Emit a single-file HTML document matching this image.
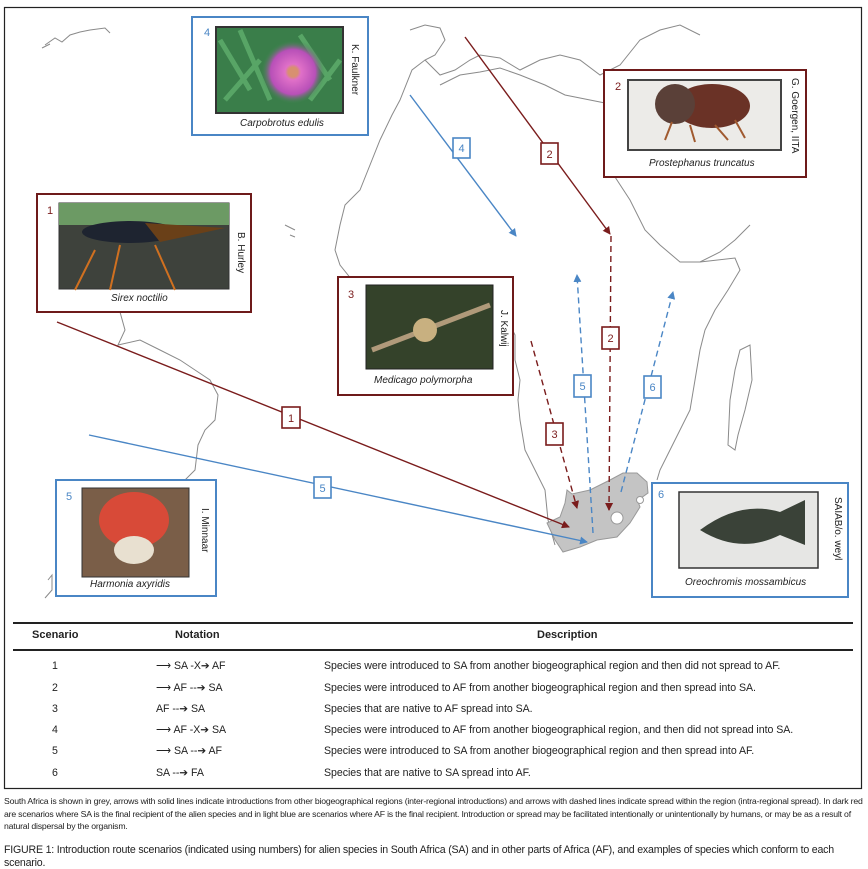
<!DOCTYPE html>
<html><head><meta charset="utf-8"><style>
html,body{margin:0;padding:0;background:#fff;}
body{width:868px;height:866px;position:relative;overflow:hidden;font-family:"Liberation Sans",sans-serif;color:#222;}
.t{position:absolute;white-space:nowrap;}
.row{position:absolute;font-size:10.6px;letter-spacing:-0.05px;white-space:nowrap;}
</style></head><body>
<svg width="868" height="866" style="position:absolute;left:0;top:0">
<defs>
<marker id="ar" markerWidth="8" markerHeight="8" refX="7" refY="4" orient="auto" markerUnits="userSpaceOnUse"><path d="M0,0 L8,4 L0,8 z" fill="#7a1c1c"/></marker>
<marker id="ab" markerWidth="8" markerHeight="8" refX="7" refY="4" orient="auto" markerUnits="userSpaceOnUse"><path d="M0,0 L8,4 L0,8 z" fill="#4a86c5"/></marker>
<radialGradient id="fl" cx="0.5" cy="0.5" r="0.5"><stop offset="0.15" stop-color="#d89070"/><stop offset="0.25" stop-color="#e070c8"/><stop offset="0.7" stop-color="#b850b8"/><stop offset="1" stop-color="#3a8a4a" stop-opacity="0"/></radialGradient>
</defs>
<rect x="4.5" y="7.5" width="857" height="781" fill="none" stroke="#222" stroke-width="1.2"/>
<g fill="none" stroke="#8a8a8a" stroke-width="1">
<path d="M45,45 L55,38 L62,42 L70,35 L80,32 L90,30 L105,28 L110,33 M42,48 L50,44"/>
<path d="M410,30 L425,25 L440,28 L445,40 L435,55 L425,60 L412,70 L400,100 L392,115 L380,140 L372,160 L360,190 L345,205 L340,225 L335,250 L340,265 L352,280 L365,300 L380,305 L400,308 L420,310 L450,312 L480,312 L505,315 L515,335 L515,360 L520,380 L518,400 L520,420 L525,450 L535,470 L545,490 L548,520 L555,545"/>
<path d="M440,85 L460,75 L480,72 L500,68 L520,75 L545,85 L565,95 L590,100 L605,103"/>
<path d="M425,60 L440,75 L455,70 L470,60 L480,55 L500,58 L520,70 L540,60 L560,55 L580,60 L600,75 L620,65 L640,40 L660,30 L680,25 L700,35"/>
<path d="M615,177 L630,200 L645,230 L660,245 L680,262 L700,262 L720,252 L735,240 L750,225"/>
<path d="M700,262 L735,258 L740,270 L728,290 L715,310 L705,330 L700,350 L695,380 L690,410 L680,430 L670,450 L660,470 L657,480"/>
<path d="M740,350 L750,345 L752,380 L745,410 L738,435 L735,450 L728,445 L730,400 L735,370 Z"/>
<path d="M120,312 L125,330 L118,345 L140,340 L160,350 L180,360 L195,370 L210,380 L218,395 L215,420 L205,430 L198,445 L195,470 L185,480 L175,480"/>
<path d="M48,580 L52,575 L52,590 L45,598"/>
<path d="M330,130 L340,128 L345,135 M285,225 L295,230 M290,235 L295,237"/>
</g>
<path d="M567,490 L572,494 L590,490 L610,480 L623,473 L637,473 L647,482 L648,493 L641,498 L637,499 L640,507 L630,523 L617,537 L597,540 L580,547 L563,552 L555,540 L547,523 L560,517 L565,503 Z" fill="#c4c4c4" stroke="#999" stroke-width="1"/>
<circle cx="617" cy="518" r="6" fill="#fff" stroke="#999"/>
<circle cx="640" cy="500" r="3.5" fill="#fff" stroke="#999"/>
<g stroke-width="1.4" fill="none">
<line x1="57" y1="322" x2="569" y2="527" stroke="#7a1c1c" marker-end="url(#ar)"/>
<line x1="465" y1="37" x2="610" y2="234" stroke="#7a1c1c" marker-end="url(#ar)"/>
<line x1="611" y1="236" x2="609" y2="510" stroke="#7a1c1c" stroke-dasharray="6,4" marker-end="url(#ar)"/>
<line x1="531" y1="341" x2="577" y2="508" stroke="#7a1c1c" stroke-dasharray="6,4" marker-end="url(#ar)"/>
<line x1="410" y1="95" x2="516" y2="236" stroke="#4a86c5" marker-end="url(#ab)"/>
<line x1="89" y1="435" x2="587" y2="542" stroke="#4a86c5" marker-end="url(#ab)"/>
<line x1="593" y1="533" x2="577" y2="275" stroke="#4a86c5" stroke-dasharray="6,4" marker-end="url(#ab)"/>
<line x1="621" y1="492" x2="673" y2="292" stroke="#4a86c5" stroke-dasharray="6,4" marker-end="url(#ab)"/>
</g>
<g font-size="11" text-anchor="middle" font-family="Liberation Sans">
<rect x="282" y="407" width="18" height="21" fill="#fff" stroke="#7a1c1c" stroke-width="1.6"/><text x="291" y="422" fill="#7a1c1c">1</text>
<rect x="541" y="143" width="17" height="21" fill="#fff" stroke="#7a1c1c" stroke-width="1.6"/><text x="549.5" y="158" fill="#7a1c1c">2</text>
<rect x="602" y="327" width="17" height="22" fill="#fff" stroke="#7a1c1c" stroke-width="1.6"/><text x="610.5" y="342" fill="#7a1c1c">2</text>
<rect x="546" y="423" width="17" height="22" fill="#fff" stroke="#7a1c1c" stroke-width="1.6"/><text x="554.5" y="438" fill="#7a1c1c">3</text>
<rect x="453" y="138" width="17" height="20" fill="#fff" stroke="#4a86c5" stroke-width="1.6"/><text x="461.5" y="152" fill="#4a86c5">4</text>
<rect x="314" y="477" width="17" height="21" fill="#fff" stroke="#4a86c5" stroke-width="1.6"/><text x="322.5" y="492" fill="#4a86c5">5</text>
<rect x="574" y="375" width="17" height="22" fill="#fff" stroke="#4a86c5" stroke-width="1.6"/><text x="582.5" y="390" fill="#4a86c5">5</text>
<rect x="644" y="376" width="17" height="22" fill="#fff" stroke="#4a86c5" stroke-width="1.6"/><text x="652.5" y="391" fill="#4a86c5">6</text>
</g>
<g fill="#fff" stroke-width="2">
<rect x="192" y="17" width="176" height="118" stroke="#4a86c5"/>
<rect x="604" y="70" width="202" height="107" stroke="#6e1a1a"/>
<rect x="37" y="194" width="214" height="118" stroke="#6e1a1a"/>
<rect x="338" y="277" width="175" height="118" stroke="#6e1a1a"/>
<rect x="56" y="480" width="160" height="116" stroke="#4a86c5"/>
<rect x="652" y="483" width="196" height="114" stroke="#4a86c5"/>
</g>
<rect x="216" y="27" width="127" height="86" fill="#3a7e4a" stroke="#333" stroke-width="2"/>
<path d="M220,40 L250,90 M240,30 L270,100 M300,35 L330,80 M225,100 L260,60 M310,100 L340,60" stroke="#6cc07a" stroke-width="5" opacity="0.6"/>
<circle cx="293" cy="72" r="32" fill="url(#fl)"/>
<rect x="628" y="80" width="153" height="70" fill="#ecebe8" stroke="#444" stroke-width="2"/>
<ellipse cx="712" cy="106" rx="38" ry="22" fill="#6a3226"/><ellipse cx="675" cy="104" rx="20" ry="20" fill="#5a4038"/>
<path d="M672,122 L665,140 M690,125 L695,142 M715,125 L728,140 M735,120 L745,138" stroke="#a05a30" stroke-width="2"/>
<rect x="59" y="203" width="170" height="86" fill="#3e423c" stroke="#333" stroke-width="1"/>
<rect x="59" y="203" width="170" height="22" fill="#6c9a64"/>
<ellipse cx="130" cy="232" rx="48" ry="11" fill="#1e2430"/><path d="M145,223 L225,228 L160,242 Z" fill="#6a4018"/>
<path d="M95,250 L75,290 M120,245 L110,290 M155,245 L175,290" stroke="#d07020" stroke-width="2"/>
<rect x="366" y="285" width="127" height="84" fill="#34422a" stroke="#222" stroke-width="1"/>
<path d="M372,350 L490,305" stroke="#b09a7a" stroke-width="5"/><circle cx="425" cy="330" r="12" fill="#c8b080"/>
<rect x="82" y="488" width="107" height="89" fill="#7a5e48" stroke="#333" stroke-width="1"/>
<ellipse cx="134" cy="520" rx="35" ry="28" fill="#d84a38"/><ellipse cx="134" cy="550" rx="20" ry="14" fill="#e8e0d0"/>
<rect x="679" y="492" width="139" height="76" fill="#e6e6e4" stroke="#333" stroke-width="1.5"/>
<path d="M700,530 Q740,500 780,512 L805,500 L805,545 L780,535 Q740,555 700,530 Z" fill="#3a4238"/>
</svg>
<div class="t" style="left:204px;top:27px;font-size:11px;color:#4a86c5">4</div>
<div class="t" style="left:615px;top:81px;font-size:11px;color:#7a1c1c">2</div>
<div class="t" style="left:47px;top:205px;font-size:11px;color:#7a1c1c">1</div>
<div class="t" style="left:348px;top:289px;font-size:11px;color:#7a1c1c">3</div>
<div class="t" style="left:66px;top:491px;font-size:11px;color:#4a86c5">5</div>
<div class="t" style="left:658px;top:489px;font-size:11px;color:#4a86c5">6</div>
<div class="t" style="left:240px;top:118px;font-size:10px;font-style:italic">Carpobrotus edulis</div>
<div class="t" style="left:649px;top:158px;font-size:10px;font-style:italic">Prostephanus truncatus</div>
<div class="t" style="left:111px;top:293px;font-size:10px;font-style:italic">Sirex noctilio</div>
<div class="t" style="left:374px;top:375px;font-size:10px;font-style:italic">Medicago polymorpha</div>
<div class="t" style="left:90px;top:579px;font-size:10px;font-style:italic">Harmonia axyridis</div>
<div class="t" style="left:685px;top:577px;font-size:10px;font-style:italic">Oreochromis mossambicus</div>
<div class="t" style="font-size:10px;transform:rotate(90deg);transform-origin:0 0;left:360px;top:44px">K. Faulkner</div>
<div class="t" style="font-size:10px;transform:rotate(90deg);transform-origin:0 0;left:800px;top:78px">G. Goergen, IITA</div>
<div class="t" style="font-size:10px;transform:rotate(90deg);transform-origin:0 0;left:246px;top:232px">B. Hurley</div>
<div class="t" style="font-size:10px;transform:rotate(90deg);transform-origin:0 0;left:509px;top:310px">J. Kalwij</div>
<div class="t" style="font-size:10px;transform:rotate(90deg);transform-origin:0 0;left:210px;top:508px">I. Minnaar</div>
<div class="t" style="font-size:10px;transform:rotate(90deg);transform-origin:0 0;left:843px;top:497px">SAIAB/o. weyl</div>
<div style="position:absolute;left:13px;top:622px;width:840px;border-top:2px solid #222"></div>
<div style="position:absolute;left:13px;top:649px;width:840px;border-top:2px solid #222"></div>
<div class="t" style="left:32px;top:629px;font-size:11px;font-weight:bold">Scenario</div>
<div class="t" style="left:175px;top:629px;font-size:11px;font-weight:bold">Notation</div>
<div class="t" style="left:537px;top:629px;font-size:11px;font-weight:bold">Description</div>
<div class="row" style="left:52px;top:660px">1</div><div class="row" style="left:156px;top:660px">⟶ SA -X➔ AF</div><div class="row" style="left:324px;top:660px">Species were introduced to SA from another biogeographical region and then did not spread to AF.</div>
<div class="row" style="left:52px;top:682px">2</div><div class="row" style="left:156px;top:682px">⟶ AF --➔ SA</div><div class="row" style="left:324px;top:682px">Species were introduced to AF from another biogeographical region and then spread into SA.</div>
<div class="row" style="left:52px;top:703px">3</div><div class="row" style="left:156px;top:703px">AF --➔ SA</div><div class="row" style="left:324px;top:703px">Species that are native to AF spread into SA.</div>
<div class="row" style="left:52px;top:724px">4</div><div class="row" style="left:156px;top:724px">⟶ AF -X➔ SA</div><div class="row" style="left:324px;top:724px">Species were introduced to AF from another biogeographical region, and then did not spread into SA.</div>
<div class="row" style="left:52px;top:745px">5</div><div class="row" style="left:156px;top:745px">⟶ SA --➔ AF</div><div class="row" style="left:324px;top:745px">Species were introduced to SA from another biogeographical region and then spread into AF.</div>
<div class="row" style="left:52px;top:767px">6</div><div class="row" style="left:156px;top:767px">SA --➔ FA</div><div class="row" style="left:324px;top:767px">Species that are native to SA spread into AF.</div>
<div style="position:absolute;left:4px;top:795px;width:860px;font-size:8.7px;line-height:12.5px;letter-spacing:-0.2px">South Africa is shown in grey, arrows with solid lines indicate introductions from other biogeographical regions (inter-regional introductions) and arrows with dashed lines indicate spread within the region (intra-regional spread). In dark red are scenarios where SA is the final recipient of the alien species and in light blue are scenarios where AF is the final recipient. Introduction or spread may be facilitated intentionally or unintentionally by humans, or may be as a result of natural dispersal by the organism.</div>
<div style="position:absolute;left:4px;top:844px;width:860px;font-size:10.6px;line-height:12.5px;letter-spacing:-0.2px">FIGURE 1: Introduction route scenarios (indicated using numbers) for alien species in South Africa (SA) and in other parts of Africa (AF), and examples of species which conform to each scenario.</div>
</body></html>
